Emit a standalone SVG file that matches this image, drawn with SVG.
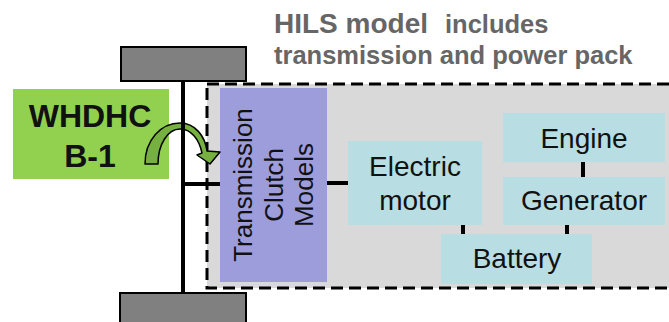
<svg xmlns="http://www.w3.org/2000/svg" width="669" height="322" viewBox="0 0 669 322">
<style>
.wheel{fill:#808080;stroke:#000;stroke-width:2}
.blue{fill:#b8dde2}
.lbl{font-family:"Liberation Sans",Arial,sans-serif;font-size:28px;fill:#111;text-anchor:middle}
.vl{font-family:"Liberation Sans",Arial,sans-serif;font-size:26px;fill:#111;text-anchor:middle}
.title{font-family:"Liberation Sans",Arial,sans-serif;font-weight:bold;fill:#666}
.conn{stroke:#000;stroke-width:4;fill:none}
</style>
<rect width="669" height="322" fill="#fff"/>
<g id="title">
<text class="title" x="274" y="33" font-size="28">HILS model</text>
<text class="title" x="445" y="33" font-size="25.5">includes</text>
<text class="title" x="274" y="64" font-size="25.5">transmission and power pack</text>
</g>
<g id="hils-box">
<rect x="207" y="84" width="470" height="204" fill="#d9d9d9" stroke="#000" stroke-width="3" stroke-dasharray="12 6"/>
</g>
<g id="wheel-top"><rect class="wheel" x="121" y="47" width="125" height="34"/></g>
<g id="wheel-bottom"><rect class="wheel" x="120" y="293" width="126" height="34"/></g>
<g id="whdhc">
<rect x="13" y="89" width="156" height="90" fill="#92d050"/>
<text x="90" y="127" font-family="Liberation Sans,Arial,sans-serif" font-weight="bold" font-size="32" text-anchor="middle" fill="#111">WHDHC</text>
<text x="90" y="167" font-family="Liberation Sans,Arial,sans-serif" font-weight="bold" font-size="32" text-anchor="middle" fill="#111">B-1</text>
</g>
<g id="transmission">
<rect x="220" y="88" width="107" height="194" fill="#9e9ddc"/>
<text class="vl" transform="translate(252,185) rotate(-90)">Transmission</text>
<text class="vl" transform="translate(283,185) rotate(-90)">Clutch</text>
<text class="vl" transform="translate(313,185) rotate(-90)">Models</text>
</g>
<g id="electric-motor">
<rect class="blue" x="348" y="141" width="134" height="84"/>
<text class="lbl" x="415" y="176">Electric</text>
<text class="lbl" x="415" y="210">motor</text>
</g>
<g id="engine">
<rect class="blue" x="503" y="113" width="162" height="49"/>
<text class="lbl" x="584" y="148">Engine</text>
</g>
<g id="generator">
<rect class="blue" x="503" y="177" width="162" height="48"/>
<text class="lbl" x="584" y="210">Generator</text>
</g>
<g id="battery">
<rect class="blue" x="441" y="234" width="151" height="50"/>
<text class="lbl" x="517" y="268">Battery</text>
</g>
<g id="connectors">
<path d="M145,164 C145,140 161,123 180,123 C195,123 205,136 207,151 L220,152 L210,164 L197,155 L202,153 C199,139 191,129 180,129 C168,129 158,144 158,164 Z" fill="#76b041" stroke="#000" stroke-width="1.5" stroke-linejoin="round"/>
<line class="conn" x1="183" y1="81" x2="183" y2="293"/>
<line class="conn" x1="183" y1="184" x2="220" y2="184"/>
<line class="conn" x1="327" y1="183" x2="348" y2="183"/>
<line class="conn" x1="583" y1="162" x2="583" y2="177"/>
<line class="conn" x1="463" y1="225" x2="463" y2="234"/>
<line class="conn" x1="567" y1="225" x2="567" y2="234"/>
</g>
</svg>
